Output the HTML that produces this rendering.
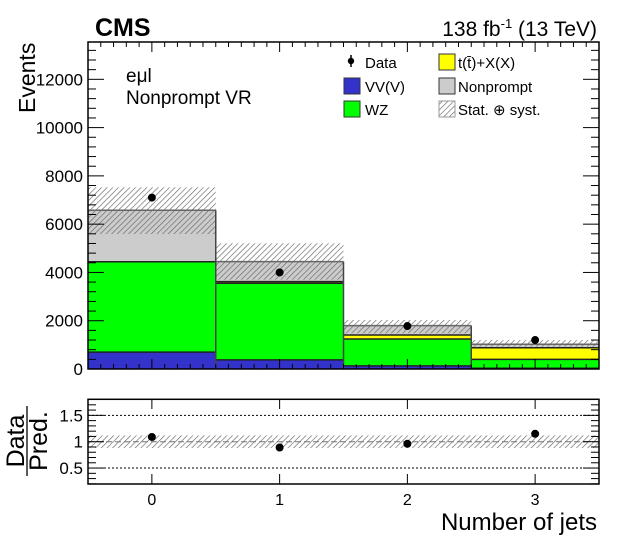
<!DOCTYPE html>
<html><head><meta charset="utf-8"><style>
body{margin:0;background:#fff;}
svg{display:block;font-family:"Liberation Sans",sans-serif;}
</style></head><body>
<svg id="s" width="631" height="551" viewBox="0 0 631 551" xmlns="http://www.w3.org/2000/svg">
<defs>
<pattern id="h" patternUnits="userSpaceOnUse" width="4" height="4" patternTransform="rotate(45)">
<line x1="0" y1="0" x2="0" y2="4" stroke="#666" stroke-width="1.3"/>
</pattern>
</defs>
<g id="main"></g>
<text x="95" y="36" font-size="25" font-weight="bold">CMS</text>
<text x="597" y="36" font-size="21" text-anchor="end">138 fb<tspan dy="-8" font-size="13">-1</tspan><tspan dy="8"> (13 TeV)</tspan></text>
<text x="126" y="82" font-size="19">eμl</text>
<text x="126" y="104" font-size="19">Nonprompt VR</text>
<text transform="translate(35,113) rotate(-90)" font-size="23">Events</text>
<!-- legend -->
<circle cx="351" cy="61" r="3.2" fill="#000"/><line x1="351" y1="55" x2="351" y2="67" stroke="#000" stroke-width="1.5"/>
<text x="365" y="68" font-size="15">Data</text>
<rect x="344" y="78" width="16" height="16" fill="#3333cc" stroke="#333"/>
<text x="365" y="92" font-size="15">VV(V)</text>
<rect x="344" y="101" width="16" height="16" fill="#00ff00" stroke="#333"/>
<text x="365" y="115" font-size="15">WZ</text>
<rect x="439" y="54" width="16" height="16" fill="#ffff00" stroke="#333"/>
<text x="458" y="68" font-size="15">t(t̄)+X(X)</text>
<rect x="439" y="78" width="16" height="16" fill="#cccccc" stroke="#333"/>
<text x="458" y="92" font-size="15">Nonprompt</text>
<rect x="439" y="101" width="16" height="16" fill="url(#h)" stroke="#999"/>
<text x="458" y="115" font-size="15">Stat. ⊕ syst.</text>
<!-- ratio -->
<g id="rat"></g>
<text transform="translate(24,441) rotate(-90)" font-size="25" text-anchor="middle">Data</text>
<line x1="27" y1="406" x2="27" y2="476" stroke="#000" stroke-width="1.3"/>
<text transform="translate(47,441) rotate(-90)" font-size="25" text-anchor="middle">Pred.</text>
<text x="597" y="530" font-size="24" text-anchor="end">Number of jets</text>
</svg>
<script>
const NS="http://www.w3.org/2000/svg";
function el(p,t,a,txt){const e=document.createElementNS(NS,t);for(const k in a)e.setAttribute(k,a[k]);if(txt!==undefined)e.textContent=txt;p.appendChild(e);return e;}
const m=document.getElementById('main'),r=document.getElementById('rat');
const X0=88,X1=599,BW=(X1-X0)/4,Y0=369,K=0.02414;
const y=v=>Y0-v*K;
const bins=[[700,4445,4445,6574,5592,7527,7100],[380,3550,3620,4450,3700,5207,4000],[130,1243,1408,1795,1479,2030,1780],[30,400,882,1023,924,1200,1200]];
bins.forEach((b,i)=>{const x=X0+i*BW;
 const st=[[0,b[0],'#3333cc'],[b[0],b[1],'#00ff00'],[b[1],b[2],'#ffff00'],[b[2],b[3],'#cccccc']];
 st.forEach(s=>{if(s[1]>s[0])el(m,'rect',{x:x,y:y(s[1]),width:BW,height:y(s[0])-y(s[1]),fill:s[2]});});
 [b[0],b[1],b[2],b[3]].forEach((v,j)=>el(m,'line',{x1:x,x2:x+BW,y1:y(v),y2:y(v),stroke:j==3?'#666':'#222','stroke-width':1.5}));
 el(m,'rect',{x:x,y:y(b[5]),width:BW,height:y(b[4])-y(b[5]),fill:'url(#h)'});
 el(m,'circle',{cx:x+BW/2,cy:y(b[6]),r:4,fill:'#000'});
 if(i>0)el(m,'line',{x1:x,x2:x,y1:y(Math.max(b[3],bins[i-1][3])),y2:Y0,stroke:'#444','stroke-width':1.5});
});
el(m,'rect',{x:X0,y:42,width:X1-X0,height:Y0-42,fill:'none',stroke:'#000','stroke-width':1.5});
for(let v=0;v<=13500;v+=400){const yy=y(v),maj=v%2000==0,L=maj?16:8;
 el(m,'line',{x1:X0,x2:X0+L,y1:yy,y2:yy,stroke:'#000'});el(m,'line',{x1:X1,x2:X1-L,y1:yy,y2:yy,stroke:'#000'});
 if(maj)el(m,'text',{x:X0-5,y:yy+6,'font-size':17,'text-anchor':'end'},v);}
for(let t=-0.5;t<=3.501;t+=0.1){const xx=X0+(t+0.5)*BW,maj=Math.abs(t-Math.round(t))<0.01,L=maj?10:5;
 el(m,'line',{x1:xx,x2:xx,y1:Y0,y2:Y0-L,stroke:'#000'});el(m,'line',{x1:xx,x2:xx,y1:42,y2:42+L,stroke:'#000'});
 el(r,'line',{x1:xx,x2:xx,y1:484,y2:484-(maj?10:0),stroke:'#000'});el(r,'line',{x1:xx,x2:xx,y1:399,y2:399+(maj?10:0),stroke:'#000'});
 if(maj)el(r,'text',{x:xx,y:505,'font-size':16,'text-anchor':'middle'},Math.round(t));}
const ry=v=>441.7-(v-1)*52.7;
el(r,'rect',{x:X0,y:ry(1.12),width:X1-X0,height:ry(0.88)-ry(1.12),fill:'url(#h)'});
[1.5,0.5].forEach(v=>el(r,'line',{x1:X0,x2:X1,y1:ry(v),y2:ry(v),stroke:'#000','stroke-dasharray':'2,2'}));
el(r,'line',{x1:X0,x2:X1,y1:ry(1),y2:ry(1),stroke:'#777','stroke-dasharray':'6,3'});
[1.09,0.89,0.96,1.15].forEach((v,i)=>el(r,'circle',{cx:X0+(i+0.5)*BW,cy:ry(v),r:4,fill:'#000'}));
for(let v=0.2;v<=1.8;v+=0.1){const yy=ry(v),maj=Math.abs(v*2-Math.round(v*2))<0.01,L=maj?16:8;
 el(r,'line',{x1:X0,x2:X0+L,y1:yy,y2:yy,stroke:'#000'});el(r,'line',{x1:X1,x2:X1-L,y1:yy,y2:yy,stroke:'#000'});}
[[1.5,'1.5'],[1,'1'],[0.5,'0.5']].forEach(a=>el(r,'text',{x:X0-5,y:ry(a[0])+6,'font-size':17,'text-anchor':'end'},a[1]));
el(r,'rect',{x:X0,y:399.3,width:X1-X0,height:84.7,fill:'none',stroke:'#000','stroke-width':1.5});
</script>
</body></html>
